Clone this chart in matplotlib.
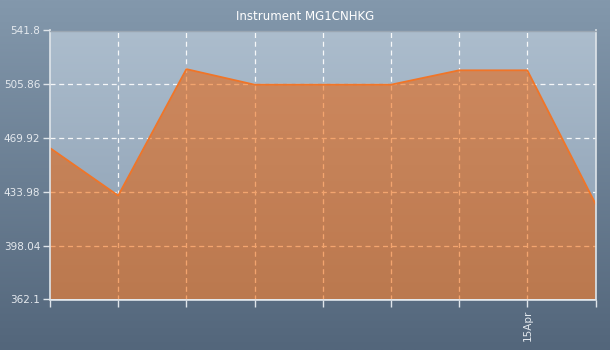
import numpy as np
import matplotlib
matplotlib.use("Agg")
import matplotlib.pyplot as plt
from matplotlib.colors import LinearSegmentedColormap

title = "Instrument MG1CNHKG"
x_pos = [0, 1, 2, 3, 4, 5, 6, 7, 8]
values = [463.3, 431.5, 516.0, 505.6, 505.6, 505.6, 515.2, 515.2, 426.0]
x_labels = ["", "", "", "", "", "", "", "15Apr", ""]
y_ticks = [362.1, 398.04, 433.98, 469.92, 505.86, 541.8]
y_labels = ["362.1", "398.04", "433.98", "469.92", "505.86", "541.8"]

W, H = 610, 350
fig = plt.figure(figsize=(W / 100, H / 100), dpi=100)

# figure background gradient
bg = fig.add_axes([0, 0, 1, 1], zorder=-10)
fig_cmap = LinearSegmentedColormap.from_list("figbg", ["#53667b", "#8398ac"])
bg.imshow(np.linspace(0, 1, 256).reshape(-1, 1), aspect="auto", cmap=fig_cmap,
          origin="lower", extent=[0, 1, 0, 1])
bg.set_axis_off()

left, right, top, bottom = 50, 595.5, 30.5, 299.5
ax = fig.add_axes([left / W, 1 - bottom / H, (right - left) / W, (bottom - top) / H])
ax.set_xlim(0, 8)
ax.set_ylim(362.1, 541.8)

# axes background gradient
ax_cmap = LinearSegmentedColormap.from_list("axbg", ["#8a9db1", "#acbdcd"])
ax.imshow(np.linspace(0, 1, 256).reshape(-1, 1), aspect="auto", cmap=ax_cmap,
          origin="lower", extent=[0, 8, 362.1, 541.8], zorder=0)

# grid
for yv in y_ticks[1:-1]:
    ax.axhline(yv, color="white", lw=0.9, dashes=(4, 3), zorder=1, alpha=0.9)
for xv in x_pos[1:-1]:
    ax.axvline(xv, color="white", lw=0.9, dashes=(4, 3), zorder=1, alpha=0.9)

# area fill with gradient
poly = ax.fill_between(x_pos, values, 362.1, color="none", lw=0)
clip = poly.get_paths()[0]
fill_cmap = LinearSegmentedColormap.from_list("fill", ["#c4733f", "#d6834f"])
im = ax.imshow(np.linspace(0, 1, 256).reshape(-1, 1), aspect="auto", cmap=fill_cmap,
               origin="lower", extent=[0, 8, 362.1, 541.8], zorder=2, alpha=0.86)
im.set_clip_path(clip, transform=ax.transData)

# grid seen through the fill
for yv in y_ticks[1:-1]:
    ln = ax.axhline(yv, color="#f3a46e", lw=0.9, dashes=(4, 3), zorder=2.5)
    ln.set_clip_path(clip, transform=ax.transData)
for xv in x_pos[1:-1]:
    ln = ax.axvline(xv, color="#f3a46e", lw=0.9, dashes=(4, 3), zorder=2.5)
    ln.set_clip_path(clip, transform=ax.transData)

ax.plot(x_pos, values, color="#f07528", lw=1.3, zorder=3)

# spines
for s in ["left", "bottom", "right"]:
    ax.spines[s].set_color("#dfe5ea")
    ax.spines[s].set_linewidth(1.2)
ax.spines["top"].set_color("#9aa6b2")
ax.spines["top"].set_linewidth(1.0)
for sp in ax.spines.values():
    sp.set_zorder(5)

ax.set_yticks(y_ticks)
ax.set_yticklabels(y_labels)
ax.set_xticks(x_pos)
ax.set_xticklabels(x_labels, rotation=90)
ax.tick_params(axis="both", colors="#dfe5ea", labelcolor="#e4e9ee", labelsize=7.5,
               length=5, width=1, direction="out", pad=2)

fig.text(0.5, 1 - 17 / H, title, ha="center", va="center", color="white", fontsize=8.5)

fig.savefig("out.png", dpi=100)
